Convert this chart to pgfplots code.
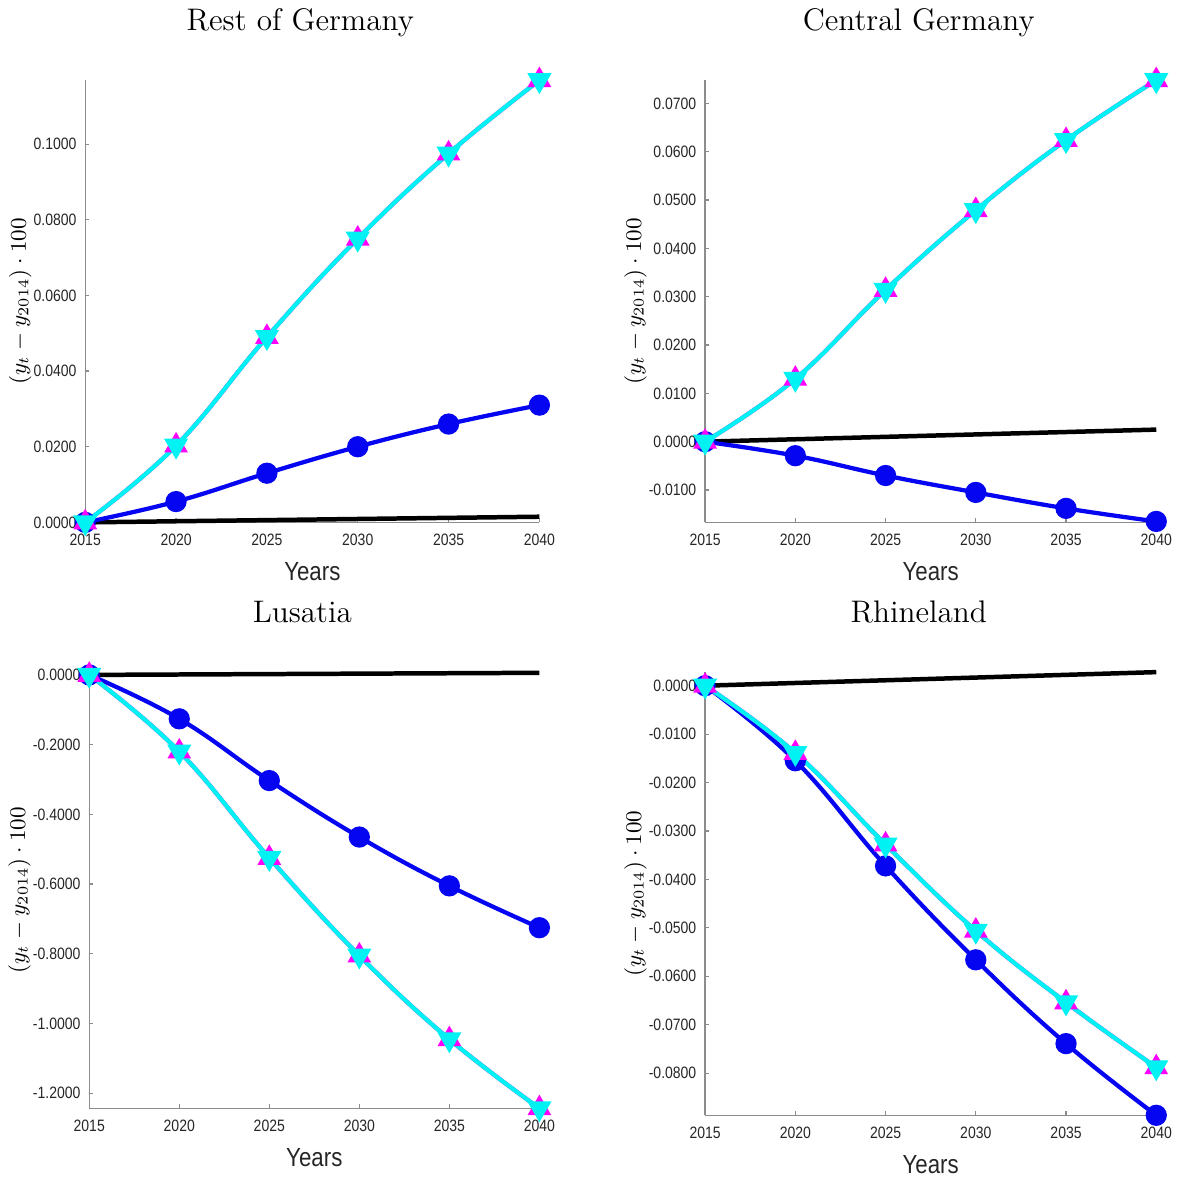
\documentclass[border=0pt]{standalone}
\usepackage{fontspec}
\setsansfont{Liberation Sans}
\newfontfamily\narrowsans[FakeStretch=0.85]{Liberation Sans}
\usepackage{pgfplots}
\pgfplotsset{compat=1.18}
\definecolor{mblue}{rgb}{0.02,0.02,0.95}
\definecolor{mcyan}{rgb}{0,0.95,0.95}
\definecolor{mmag}{rgb}{1,0,1}
\definecolor{axgray}{rgb}{0.55,0.55,0.55}
\pgfplotsset{
  panel/.style={
    scale only axis, anchor=south west,
    axis x line=bottom, axis y line=left,
    axis line style={-, draw=axgray, line width=0.5pt},
    xmin=2015, xmax=2040, xtick={2015,2020,2025,2030,2035,2040},
    xticklabels={2015,2020,2025,2030,2035,2040},
    tick align=inside, major tick length=1.6pt,
    tick style={axgray, line width=0.5pt},
    ticklabel style={font=\narrowsans\fontsize{6.6}{7}\selectfont, text=black!85},
    xticklabel style={yshift=-1pt},
    /pgf/number format/assume math mode=true,
    scaled y ticks=false,
    yticklabel style={/pgf/number format/fixed, /pgf/number format/fixed zerofill, /pgf/number format/precision=4},
    xlabel={Years}, xlabel style={font=\narrowsans\fontsize{10.5}{11}\selectfont, text=black!85},
    ylabel={$\left(y_t - y_{2014}\right)\cdot 100$}, ylabel style={font=\fontsize{9}{10}\selectfont},
    ylabel shift={-6pt},
    title style={font=\fontsize{12.5}{14}\selectfont, at={(0.5,1)}, anchor=base, yshift=14pt, xshift=-4.8pt},
    clip=false,
  },
  blk/.style={black, line width=1.8pt, no markers},
  blu/.style={mblue, line width=1.7pt, smooth, tension=0.7, mark=*, mark size=3.4pt, mark options={solid, fill=mblue, draw=mblue}},
  mag/.style={mmag, line width=1.7pt, smooth, tension=0.7, mark=triangle*, mark size=3.8pt, mark options={solid, fill=mmag, draw=mmag}},
  cya/.style={mcyan, line width=1.7pt, smooth, tension=0.7, mark=triangle*, mark size=3.9pt, mark options={solid, fill=mcyan, draw=mcyan, rotate=180}},
}
\begin{document}
\begin{tikzpicture}
% Rest of Germany
\begin{axis}[panel, at={(34.4pt,-210.8pt)}, width=182pt, height=177.2pt,
  ymin=0, ymax=0.1169, ytick={0,0.02,0.04,0.06,0.08,0.1}, title={Rest of Germany}]
\addplot[blk] coordinates {(2015,0) (2020,0.0003) (2025,0.0006) (2030,0.0009) (2035,0.0012) (2040,0.0015)};
\addplot[blu] coordinates {(2015,0) (2020,0.0055) (2025,0.013) (2030,0.020) (2035,0.026) (2040,0.031)};
\addplot[mag] coordinates {(2015,0) (2020,0.0203) (2025,0.049) (2030,0.075) (2035,0.0975) (2040,0.1169)};
\addplot[cya] coordinates {(2015,0) (2020,0.0203) (2025,0.049) (2030,0.075) (2035,0.0975) (2040,0.1169)};
\end{axis}
% Central Germany
\begin{axis}[panel, at={(282.8pt,-210.8pt)}, width=180.8pt, height=177.2pt,
  ymin=-0.0167, ymax=0.0748, ytick={-0.01,0,0.01,0.02,0.03,0.04,0.05,0.06,0.07}, title={Central Germany}]
\addplot[blk] coordinates {(2015,0) (2020,0.0005) (2025,0.001) (2030,0.0015) (2035,0.002) (2040,0.0025)};
\addplot[blu] coordinates {(2015,0) (2020,-0.0029) (2025,-0.0070) (2030,-0.0105) (2035,-0.0138) (2040,-0.0165)};
\addplot[mag] coordinates {(2015,0) (2020,0.0130) (2025,0.0314) (2030,0.0479) (2035,0.0624) (2040,0.0748)};
\addplot[cya] coordinates {(2015,0) (2020,0.0130) (2025,0.0314) (2030,0.0479) (2035,0.0624) (2040,0.0748)};
\end{axis}
% Lusatia
\begin{axis}[panel, at={(36pt,-445.6pt)}, width=180.4pt, height=174.8pt,
  ymin=-1.243, ymax=0.008, ytick={-1.2,-1,-0.8,-0.6,-0.4,-0.2,0}, title={Lusatia}]
\addplot[blk] coordinates {(2015,0) (2020,0.0012) (2025,0.0024) (2030,0.0036) (2035,0.0048) (2040,0.006)};
\addplot[blu] coordinates {(2015,0) (2020,-0.126) (2025,-0.303) (2030,-0.465) (2035,-0.605) (2040,-0.725)};
\addplot[mag] coordinates {(2015,0) (2020,-0.22) (2025,-0.525) (2030,-0.805) (2035,-1.045) (2040,-1.243)};
\addplot[cya] coordinates {(2015,0) (2020,-0.22) (2025,-0.525) (2030,-0.805) (2035,-1.045) (2040,-1.243)};
\end{axis}
% Rhineland
\begin{axis}[panel, at={(282.8pt,-448.4pt)}, width=180.8pt, height=177.6pt,
  ymin=-0.0887, ymax=0.0028, ytick={-0.08,-0.07,-0.06,-0.05,-0.04,-0.03,-0.02,-0.01,0}, title={Rhineland}]
\addplot[blk] coordinates {(2015,0) (2020,0.00056) (2025,0.00112) (2030,0.00168) (2035,0.00224) (2040,0.0028)};
\addplot[blu] coordinates {(2015,0) (2020,-0.0155) (2025,-0.0372) (2030,-0.0566) (2035,-0.0739) (2040,-0.0887)};
\addplot[mag] coordinates {(2015,0) (2020,-0.0139) (2025,-0.0328) (2030,-0.0506) (2035,-0.0654) (2040,-0.0788)};
\addplot[cya] coordinates {(2015,0) (2020,-0.0139) (2025,-0.0328) (2030,-0.0506) (2035,-0.0654) (2040,-0.0788)};
\end{axis}
\end{tikzpicture}
\end{document}
